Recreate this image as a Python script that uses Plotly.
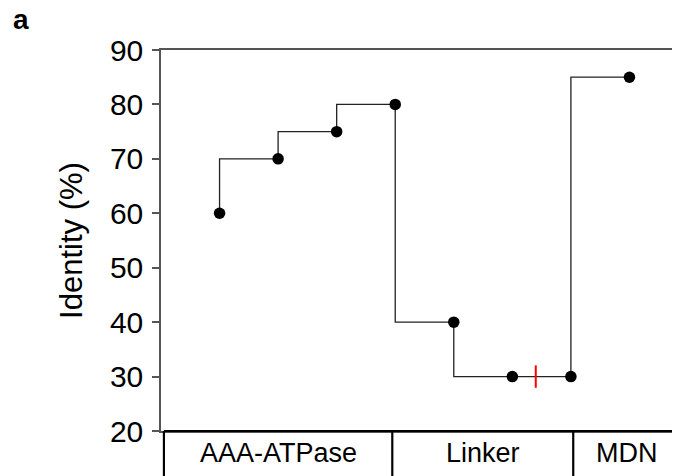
import plotly.graph_objects as go

positions = [1, 2, 3, 4, 5, 6, 7, 8]
identity = [60, 70, 75, 80, 40, 30, 30, 85]
domains = ["AAA-ATPase", "Linker", "MDN"]
domain_bounds = [0.05, 3.95, 7.04, 9.5]
red_mark_x = [6.4]
red_mark_y = [30]
y_ticks = [20, 30, 40, 50, 60, 70, 80, 90]

FONT = "Liberation Sans, Arial, sans-serif"

# page body has an 8px margin, so the figure is laid out in page coords minus 8
L, T, W, H = 153, 42, 680, 476
PH = 381
PW = W - L
XMAX = 9.0

fig = go.Figure()
fig.add_trace(go.Scatter(
    x=positions, y=identity, mode="lines+markers",
    line=dict(shape="vh", color="#222222", width=1.3),
    marker=dict(color="black", size=11.5),
    showlegend=False, cliponaxis=False,
))
fig.add_trace(go.Scatter(
    x=red_mark_x, y=red_mark_y, mode="markers",
    marker=dict(symbol="line-ns", size=16, line=dict(color="red", width=2)),
    showlegend=False,
))

shapes = []
box_bottom = -0.3
shapes.append(dict(type="line", xref="x", yref="paper", x0=domain_bounds[0], x1=domain_bounds[-1],
                   y0=0, y1=0, line=dict(color="black", width=2.2)))
for b in domain_bounds[:-1]:
    shapes.append(dict(type="line", xref="x", yref="paper", x0=b, x1=b, y0=0, y1=box_bottom,
                       line=dict(color="black", width=2.2)))

annotations = []
for i, name in enumerate(domains):
    lo = domain_bounds[i]
    hi = min(domain_bounds[i + 1], 8.86)
    annotations.append(dict(x=(lo + hi) / 2, y=-22 / PH, xref="x", yref="paper", text=name,
                            showarrow=False, font=dict(family=FONT, size=27, color="black"),
                            xanchor="center", yanchor="middle"))
annotations.append(dict(x=(3 - L) / PW, y=1 + (T - 12) / PH, xref="paper", yref="paper",
                        text="<b>a</b>", showarrow=False,
                        font=dict(family=FONT, size=28, color="black"),
                        xanchor="left", yanchor="middle"))

fig.update_layout(
    width=W, height=H,
    margin=dict(l=L, r=0, t=T, b=H - T - PH, autoexpand=False),
    paper_bgcolor="white", plot_bgcolor="white",
    shapes=shapes, annotations=annotations,
    font=dict(family=FONT, color="black"),
    xaxis=dict(range=[0, XMAX], showgrid=False, zeroline=False, showticklabels=False, ticks="",
               showline=True, mirror=True, linecolor="#555555", linewidth=1.5),
    yaxis=dict(range=[20, 90], tickvals=y_ticks, showgrid=False, zeroline=False,
               ticks="outside", ticklen=7, tickcolor="#555555", tickwidth=1.5,
               showline=True, linecolor="#555555", linewidth=1.5,
               tickfont=dict(family=FONT, size=30, color="black"), ticklabelstandoff=3,
               title=dict(text="Identity (%)", font=dict(family=FONT, size=31, color="black"), standoff=18)),
)
fig.write_html("out.html")
